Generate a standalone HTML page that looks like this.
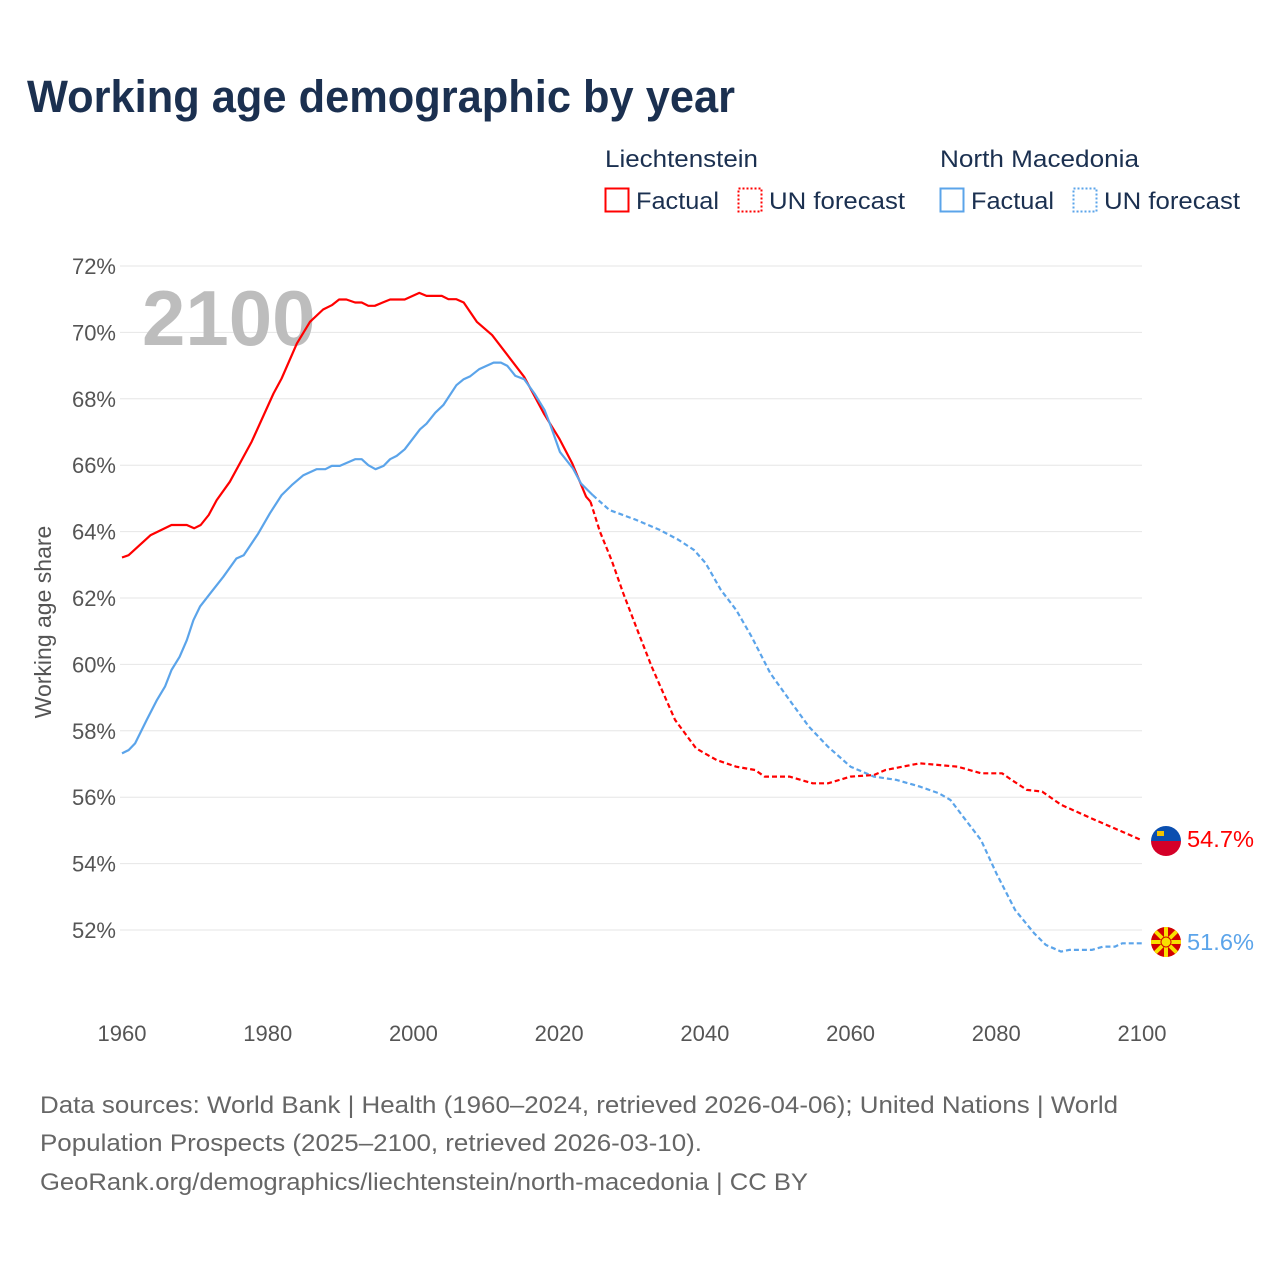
<!DOCTYPE html>
<html><head><meta charset="utf-8"><style>
body{margin:0;background:#fff;font-family:"Liberation Sans",sans-serif;}
#wrap{position:relative;width:1280px;height:1280px;overflow:hidden;}
</style></head><body>
<div id="wrap">
<svg id="chart" width="1280" height="1280" xmlns="http://www.w3.org/2000/svg" font-family="Liberation Sans, sans-serif">
<text x="27" y="112" font-size="45" font-weight="bold" fill="#1b3050" textLength="708" lengthAdjust="spacingAndGlyphs">Working age demographic by year</text>
<g>
<text x="605" y="167" font-size="24" fill="#1b3050" textLength="153" lengthAdjust="spacingAndGlyphs">Liechtenstein</text>
<text x="940" y="167" font-size="24" fill="#1b3050" textLength="199" lengthAdjust="spacingAndGlyphs">North Macedonia</text>
<g><rect x="605.5" y="188.5" width="23" height="23" fill="none" stroke="#ff0000" stroke-width="2"/><text x="636" y="209" font-size="24" fill="#1b3050" textLength="83" lengthAdjust="spacingAndGlyphs">Factual</text></g>
<g><rect x="738.5" y="188.5" width="23" height="23" fill="none" stroke="#ff0000" stroke-width="2" stroke-dasharray="2,2"/><text x="769" y="209" font-size="24" fill="#1b3050" textLength="136" lengthAdjust="spacingAndGlyphs">UN forecast</text></g>
<g><rect x="940.5" y="188.5" width="23" height="23" fill="none" stroke="#5ba4ea" stroke-width="2"/><text x="971" y="209" font-size="24" fill="#1b3050" textLength="83" lengthAdjust="spacingAndGlyphs">Factual</text></g>
<g><rect x="1073.5" y="188.5" width="23" height="23" fill="none" stroke="#5ba4ea" stroke-width="2" stroke-dasharray="2,2"/><text x="1104" y="209" font-size="24" fill="#1b3050" textLength="136" lengthAdjust="spacingAndGlyphs">UN forecast</text></g>
</g>
<g id="grid"></g>
<g id="yticks"></g>
<g id="xticks"></g>
<text x="142" y="345" font-size="78" font-weight="bold" fill="#bdbdbd">2100</text>
<text transform="translate(51,622) rotate(-90)" text-anchor="middle" font-size="23" fill="#555">Working age share</text>
<g id="series"></g>
<g>
<clipPath id="cl1"><circle cx="1166" cy="841" r="15"/></clipPath>
<g clip-path="url(#cl1)"><rect x="1150" y="825" width="32" height="16" fill="#0b4fb0"/><rect x="1150" y="841" width="32" height="16" fill="#d40028"/><rect x="1157" y="831" width="7" height="5" fill="#f2c200"/></g>
</g>
<g>
<clipPath id="cl2"><circle cx="1166" cy="942" r="15"/></clipPath>
<g clip-path="url(#cl2)"><rect x="1150" y="926" width="32" height="32" fill="#d20000"/>
<g stroke="#f8e000" stroke-width="4"><line x1="1150" y1="942" x2="1182" y2="942"/><line x1="1166" y1="926" x2="1166" y2="958"/><line x1="1154" y1="930" x2="1178" y2="954"/><line x1="1178" y1="930" x2="1154" y2="954"/></g>
<circle cx="1166" cy="942" r="5" fill="#f8e000" stroke="#d20000" stroke-width="1"/></g>
</g>
<text x="1187" y="847" font-size="23" fill="#ff0000" textLength="67" lengthAdjust="spacingAndGlyphs">54.7%</text>
<text x="1187" y="950" font-size="23" fill="#5ba4ea" textLength="67" lengthAdjust="spacingAndGlyphs">51.6%</text>
<g font-size="24" fill="#666">
<text x="40" y="1113" textLength="1078" lengthAdjust="spacingAndGlyphs">Data sources: World Bank | Health (1960–2024, retrieved 2026-04-06); United Nations | World</text>
<text x="40" y="1151" textLength="662" lengthAdjust="spacingAndGlyphs">Population Prospects (2025–2100, retrieved 2026-03-10).</text>
<text x="40" y="1190" textLength="768" lengthAdjust="spacingAndGlyphs">GeoRank.org/demographics/liechtenstein/north-macedonia | CC BY</text>
</g>
</svg>
</div>
<script>
const yTicks=[52,54,56,58,60,62,64,66,68,70,72];
const xTicks=[1960,1980,2000,2020,2040,2060,2080,2100];
const liFactYears=[1960,1960.9,1963.9,1966.8,1968.9,1969.9,1970.8,1971.9,1973,1974.8,1977.8,1980.8,1981.9,1984,1985.8,1987.6,1988.8,1989.8,1990.8,1992,1992.9,1993.8,1994.7,1996.8,1998.8,2000.8,2001.8,2003.9,2004.8,2005.9,2006.9,2008.7,2010.8,2015.2,2017.9,2020,2021.8,2023.7,2024.3];
const liFactVals=[63.22,63.29,63.89,64.2,64.2,64.1,64.2,64.5,64.95,65.5,66.71,68.16,68.61,69.67,70.32,70.69,70.82,70.99,70.99,70.9,70.9,70.8,70.8,70.99,70.99,71.19,71.1,71.1,71.0,71.0,70.9,70.32,69.92,68.66,67.56,66.81,66.05,65.05,64.9];
const liFcYears=[2024.3,2025.6,2027.2,2028.8,2030.9,2032.7,2035.9,2038.8,2041.6,2044.3,2046.9,2048.2,2051.6,2054.8,2056.9,2060,2063.2,2064.8,2069.5,2074.7,2077.9,2080.8,2082.1,2084.2,2086.3,2088.9,2093.6,2097.3,2100];
const liFcVals=[64.9,64.0,63.14,62.14,60.94,59.93,58.33,57.47,57.12,56.92,56.82,56.62,56.62,56.42,56.42,56.62,56.67,56.82,57.02,56.92,56.72,56.72,56.52,56.22,56.17,55.77,55.31,54.96,54.7];
const mkFactYears=[1960,1960.9,1961.8,1963.4,1964.8,1965.9,1966.8,1967.9,1968.9,1969.8,1970.7,1972.1,1973.9,1975.7,1976.7,1978.7,1980.3,1981.9,1983.3,1984.9,1986.7,1987.9,1988.8,1989.9,1992,1992.9,1993.8,1994.8,1995.9,1996.8,1997.7,1998.8,2000.9,2001.8,2003,2004.1,2005.9,2006.9,2007.8,2009,2011,2012,2012.9,2014,2015.2,2016.6,2018,2018.9,2020.1,2021.9,2023,2024.6];
const mkFactVals=[57.32,57.42,57.62,58.33,58.93,59.33,59.83,60.23,60.73,61.33,61.74,62.14,62.64,63.19,63.29,63.94,64.55,65.1,65.4,65.7,65.88,65.88,65.98,65.98,66.18,66.18,66.0,65.88,65.98,66.18,66.28,66.48,67.08,67.25,67.58,67.81,68.41,68.59,68.68,68.89,69.09,69.09,68.99,68.69,68.59,68.16,67.66,67.15,66.4,65.9,65.45,65.1];
const mkFcYears=[2024.6,2026.9,2030.6,2033.8,2036.4,2038.5,2040.1,2042.2,2044.3,2046.4,2049,2051.6,2054.3,2056.9,2060,2063.2,2066.3,2069.5,2072.1,2073.7,2075.8,2077.9,2080,2082.6,2085.2,2086.8,2088.9,2090,2093.1,2094.7,2096.3,2097.3,2100];
const mkFcVals=[65.1,64.65,64.35,64.05,63.75,63.45,63.05,62.24,61.64,60.84,59.73,58.93,58.12,57.52,56.92,56.62,56.52,56.32,56.12,55.92,55.31,54.71,53.71,52.6,51.9,51.55,51.35,51.4,51.4,51.5,51.5,51.6,51.6];

const NS='http://www.w3.org/2000/svg';
const X0=122,X1=1142,Y72=266,Y52=930;
function xs(y){return X0+(y-1960)*(X1-X0)/140;}
function ys(v){return Y72+(72-v)*(Y52-Y72)/20;}
function mk(tag,attrs){const e=document.createElementNS(NS,tag);for(const k in attrs)e.setAttribute(k,attrs[k]);return e;}
const grid=document.getElementById('grid'),yt=document.getElementById('yticks'),xt=document.getElementById('xticks'),ser=document.getElementById('series');
yTicks.forEach(v=>{
  const l=mk('line',{x1:120,x2:X1,y1:ys(v),y2:ys(v),stroke:'#e6e6e6','stroke-width':1});
  
  
  grid.appendChild(l);
  const t=mk('text',{x:116,y:ys(v)+8,'text-anchor':'end','font-size':22,fill:'#555'});
  t.textContent=v+'%';
  
  
  yt.appendChild(t);
});
xTicks.forEach(v=>{
  const t=mk('text',{x:xs(v),y:1041,'text-anchor':'middle','font-size':22,fill:'#555'});
  t.textContent=v;
  
  
  xt.appendChild(t);
});
function line(years,vals,color,dash,name){
  const d=years.map((y,i)=>(i?'L':'M')+xs(y).toFixed(1)+','+ys(vals[i]).toFixed(1)).join('');
  const p=mk('path',{d:d,fill:'none',stroke:color,'stroke-width':2.2,'stroke-linejoin':'round'});
  if(dash)p.setAttribute('stroke-dasharray','5,3');
  
  
  ser.appendChild(p);
}
line(mkFcYears,mkFcVals,'#5ba4ea',true,'north-macedonia-forecast-line');
line(liFcYears,liFcVals,'#ff0000',true,'liechtenstein-forecast-line');
line(liFactYears,liFactVals,'#ff0000',false,'liechtenstein-factual-line');
line(mkFactYears,mkFactVals,'#5ba4ea',false,'north-macedonia-factual-line');
</script>
</body></html>
